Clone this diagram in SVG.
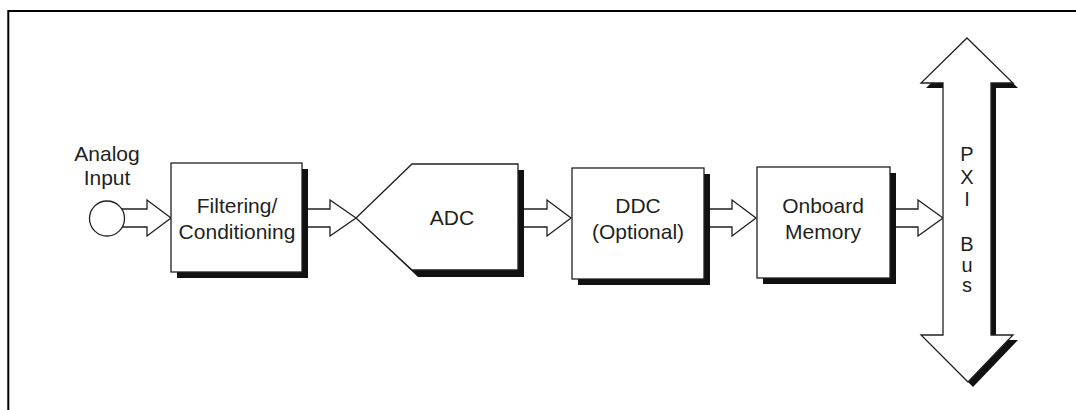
<svg xmlns="http://www.w3.org/2000/svg" width="1076" height="410" viewBox="0 0 1076 410">
<style>
  .box{fill:#fff;stroke:#231f20;stroke-width:1.3}
  .shadow{fill:#111;stroke:none}
  .arrow{fill:#fff;stroke:#231f20;stroke-width:1.3;stroke-linejoin:miter}
  .lbl{font-family:"Liberation Sans",Arial,sans-serif;font-size:21px;fill:#231f20;text-anchor:middle}
  .bus{font-family:"Liberation Sans",Arial,sans-serif;font-size:20px;fill:#231f20;text-anchor:middle}
</style>
<rect width="1076" height="410" fill="#fff"/>
<g id="frame">
  <path d="M8.3 410 V11 H1076" fill="none" stroke="#000" stroke-width="2"/>
</g>
<g id="connectors">
  <path class="arrow" d="M118 209 H147 V200 L171 218 L147 236 V227 H118"/>
  <path class="arrow" d="M307 209 H330 V200 L356 218 L330 236 V227 H307"/>
  <path class="arrow" d="M524 209 H547 V200 L571 218 L547 236 V227 H524"/>
  <path class="arrow" d="M710 209 H732 V200 L756 218 L732 236 V227 H710"/>
  <path class="arrow" d="M896 209 H918 V200 L943 218 L918 236 V227 H896"/>
</g>
<g id="analog-input">
  <circle cx="107" cy="218.5" r="17.5" class="box"/>
  <text class="lbl" x="107" y="161">Analog</text>
  <text class="lbl" x="107" y="185">Input</text>
</g>
<g id="filtering">
  <rect class="shadow" x="177" y="169" width="131" height="109"/>
  <rect class="box" x="171" y="163" width="131" height="109"/>
  <text class="lbl" x="237" y="213">Filtering/</text>
  <text class="lbl" x="237" y="239">Conditioning</text>
</g>
<g id="adc">
  <polygon class="shadow" points="362,224 418,170 524,170 524,277 418,277"/>
  <polygon class="box" points="356,218 412,164 518,164 518,270 412,270"/>
  <text class="lbl" x="452" y="225">ADC</text>
</g>
<g id="ddc">
  <rect class="shadow" x="578" y="174" width="132" height="111"/>
  <rect class="box" x="572" y="168" width="132" height="111"/>
  <text class="lbl" x="638" y="213">DDC</text>
  <text class="lbl" x="638" y="239">(Optional)</text>
</g>
<g id="memory">
  <rect class="shadow" x="763" y="173" width="133" height="111"/>
  <rect class="box" x="757" y="167" width="133" height="111"/>
  <text class="lbl" x="823" y="213">Onboard</text>
  <text class="lbl" x="823" y="239">Memory</text>
</g>
<g id="pxi-bus">
  <polygon class="shadow" points="972,43 1018,88 996,88 996,340 1018,340 973,387 926,340 948,340 948,88 926,88"/>
  <polygon class="box" points="967,38 1013,83 991,83 991,335 1013,335 968,382 921,335 943,335 943,83 921,83"/>
  <text class="bus" x="967" y="161">P</text>
  <text class="bus" x="967" y="184">X</text>
  <text class="bus" x="967" y="206">I</text>
  <text class="bus" x="967" y="251">B</text>
  <text class="bus" x="967" y="272">u</text>
  <text class="bus" x="967" y="292">s</text>
</g>
</svg>
